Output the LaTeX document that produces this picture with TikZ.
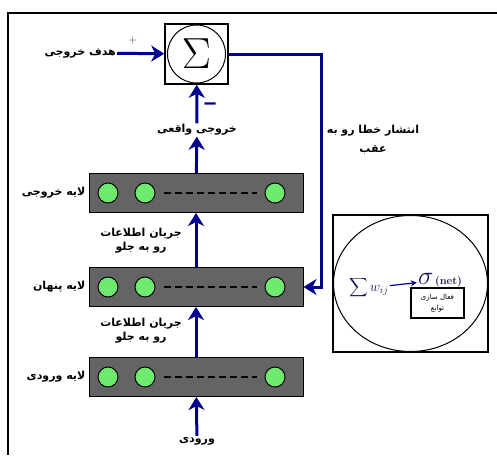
\documentclass[tikz,border=0pt]{standalone}
\usepackage{fontspec}
\usepackage{graphicx}
\newfontfamily\arabicfont[Script=Arabic]{DejaVu Sans}
\TeXXeTstate=1
\usetikzlibrary{arrows.meta,positioning}
\definecolor{flowblue}{RGB}{0,0,140}
\definecolor{layergray}{RGB}{100,100,100}
\definecolor{unitgreen}{RGB}{110,235,110}
\definecolor{inkblue}{RGB}{25,25,90}
\newcommand{\rl}[1]{\beginR #1\endR}

\tikzset{
  layer/.style={rectangle, draw=black, line width=1pt, fill=layergray, minimum width=214pt, minimum height=39pt},
  unit/.style={circle, draw=black, line width=1pt, fill=unitgreen, minimum size=20pt, inner sep=0pt},
  unitdots/.style={line width=2.5pt, dash pattern=on 7pt off 4pt, shorten <=8pt, shorten >=8pt},
  flow/.style={draw=flowblue, line width=3pt, -{Stealth[length=13pt,width=16pt,inset=4pt]}},
  fa/.style={font=\arabicfont\bfseries\fontsize{11}{13}\selectfont, align=center, inner sep=1pt}
}

\begin{document}
\begin{tikzpicture}[x=1pt, y=-1pt]
\useasboundingbox (0,0) rectangle (497,455);

%Frame
\draw[line width=1.5pt] (497,13) -- (8,13) -- (8,455);

%Sum
\node[rectangle, draw, line width=1.5pt, minimum width=63pt, minimum height=60pt] (sum) at (196.5,54) {};
\node[circle, draw, line width=1pt, minimum size=58pt, inner sep=0pt] (sumc) at (196.5,54) {\scalebox{1.75}{\Huge$\Sigma$}};

%Target
\node[fa, anchor=east] (target) at (117,53) {\rl{هدف خروجی}};
\node[font=\large, text=black!75] (plus) at (133,40) {$+$};
\draw[flow] (target) -- (sum);

%Actual output
\node[fa] (actual) at (197,130) {\rl{خروجی واقعی}};
\node[font=\bfseries\huge, text=flowblue, inner sep=0pt] (minus) at (211,106) {\scalebox{1.8}[1.2]{-}};
\draw[flow] (actual) -- (sum);

%Output layer
\node[layer] (out) at (196,193) {};
\node[unit] (out1) at (108,193) {};
\node[unit] (out2) at (145,193) {};
\node[unit] (out3) at (275,193) {};
\draw[unitdots] (out2) -- (out3);
\node[fa, left=2pt of out] (outname) {\rl{لایه خروجی}};

%Hidden layer
\node[layer] (hid) at (196,287) {};
\node[unit] (hid1) at (108,287) {};
\node[unit] (hid2) at (145,287) {};
\node[unit] (hid3) at (275,287) {};
\draw[unitdots] (hid2) -- (hid3);
\node[fa, left=2pt of hid] (hidname) {\rl{لایه پنهان}};

%Input layer
\node[layer] (inp) at (196,377) {};
\node[unit] (inp1) at (108,377) {};
\node[unit] (inp2) at (145,377) {};
\node[unit] (inp3) at (275,377) {};
\draw[unitdots] (inp2) -- (inp3);
\node[fa, left=2pt of inp] (inpname) {\rl{لایه ورودی}};

%Input
\node[fa] (input) at (197,441) {\rl{ورودی}};

%Forward flow
\draw[flow] (input) -- (inp);
\draw[flow] (inp) -- (hid);
\draw[flow] (hid) -- (out);
\draw[flow] (out) -- (actual);
\node[fa] (fwd1) at (141,241) {\rl{جریان اطلاعات}\\[1pt]\rl{رو به جلو}};
\node[fa] (fwd2) at (141,331) {\rl{جریان اطلاعات}\\[1pt]\rl{رو به جلو}};

%Back propagation
\coordinate (back) at (321,287);
\draw[flow] (sum.east) -| (back) -- (hid);
\node[fa] (backname) at (373,140) {\rl{انتشار خطا رو به}\\[6pt]\rl{عقب}};

%Neuron
\node[rectangle, draw, line width=1.5pt, minimum width=155pt, minimum height=137pt] (neuron) at (410.5,283.5) {};
\draw[line width=1pt] (neuron.center) ellipse [x radius=77pt, y radius=68pt];
\node[text=inkblue, inner sep=1pt] (wsum) at (369,288) {\scalebox{1.3}{$\displaystyle\sum$}\,\Large$w_{ij}$};
\node[text=inkblue, inner sep=1pt] (sigma) at (440,280) {\scalebox{1.5}{\LARGE$\sigma$}\,\fontsize{11}{11}\selectfont\textbf{(net)}};
\draw[flowblue, line width=1.2pt, -{Stealth[length=6pt,width=6pt]}] (wsum) -- (sigma);
\node[rectangle, draw, line width=1.5pt, minimum width=53pt, minimum height=30pt, align=center, inner sep=1pt, font=\arabicfont\fontsize{7}{11}\selectfont] (act) at (437.5,303) {\rl{فعال سازی}\\\rl{توابع}};

\end{tikzpicture}
\end{document}
